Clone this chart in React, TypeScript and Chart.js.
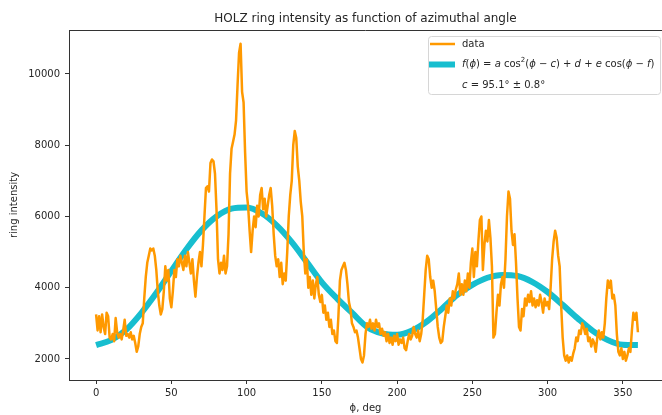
import React, { useEffect, useRef } from "react";
import { Chart, registerables } from "chart.js";

Chart.register(...registerables);

const titleText = "HOLZ ring intensity as function of azimuthal angle";
const xLabel = "ϕ, deg";
const yLabel = "ring intensity";

const xTicks = [0, 50, 100, 150, 200, 250, 300, 350];
const yTicks = [2000, 4000, 6000, 8000, 10000];

// measured intensity, one sample per degree starting at 0°
const phiStartDeg = 0;
const phiStepDeg = 1;
const intensity = [
  3250, 2800, 3200, 2750, 3250, 2900, 2700, 3300, 3200, 2600,
  2550, 2700, 2500, 3150, 2750, 2600, 2700, 2550, 2800, 3100,
  2650, 2700, 2600, 2750, 2550, 2650, 2450, 2200, 2350, 2700,
  2900, 3000, 3700, 4300, 4700, 4900, 5100, 5050, 5100, 4900,
  4500, 3900, 3500, 3250, 3400, 3900, 4600, 4200, 4500, 3700,
  3450, 3900, 4500, 4300, 4800, 4600, 4900, 4700, 4500, 4900,
  4600, 5000, 4700, 4400, 4800, 4200, 3750, 4300, 4700, 5000,
  4600, 5200, 6000, 6800, 6850, 6700, 7500, 7600, 7550, 7200,
  6200, 4800, 4400, 4700, 4500, 4900, 4400, 4600, 5500, 7200,
  7900, 8100, 8300, 8700, 9700, 10600, 10850, 9500, 9200, 7800,
  6700, 6300, 5600, 5000, 5600, 6000, 5700, 6300, 6000, 6600,
  6800, 6200, 6500, 6000, 6300, 6600, 6800, 6300, 5500, 4900,
  4600, 4800, 4300, 4700, 4100, 4400, 4200, 5000, 6000, 6600,
  7000, 8000, 8400, 8200, 7400, 7000, 6400, 6000, 5000, 4400,
  4800, 4000, 4300, 3800, 4200, 3700, 4100, 4300, 3800, 3600,
  3800, 3300, 3500, 3100, 3300, 2900, 3100, 2700, 2800, 2500,
  2450, 3200, 4200, 4500, 4600, 4700, 4500, 4100, 3600, 3400,
  3000, 2900, 2750, 2800, 2600, 2300, 2000, 1900, 2100, 2700,
  3000, 2900, 3100, 2850, 3000, 2800, 3100, 2900, 3000, 2700,
  2850, 2650, 2750, 2500, 2700, 2450, 2600, 2400, 2650, 2500,
  2700, 2400, 2550, 2450, 2600, 2300, 2250, 2500, 2700, 2550,
  2650, 2900, 2700, 2600, 2800, 2500, 2700, 3100, 3800, 4500,
  4900, 4800, 4300, 4000, 4200, 3900, 3400, 2900, 2600, 2450,
  2500, 2900, 3200, 3500, 3300, 3700, 3500, 3900, 3700, 3950,
  4100, 4400, 3800, 4100, 3800, 4200, 3900, 4400, 4000, 4700,
  5100, 4300, 5000, 4600, 5300, 5900, 6000, 4500, 5200, 5600,
  5300, 5900, 5400, 4600, 2600, 2700, 3300, 3800, 3500, 4100,
  4300, 4000, 4800, 6000, 6700, 6500, 5600, 5200, 5500, 4700,
  3700, 2900, 2800, 3400, 3200, 3700, 3500, 3800, 3600, 3900,
  3500, 3700, 3450, 3650, 3500, 3800, 3600, 3300, 3700, 3500,
  3600, 3400, 4000, 4800, 5300, 5600, 5400, 4900, 4600, 3500,
  2600, 2100, 1950, 2100, 1900, 2050, 1950, 2150, 2300, 2600,
  2500, 2800, 2700, 3000, 2900, 2700, 2850, 2500, 2600, 2350,
  2550, 2450, 2200, 2600, 2800, 2550, 2750, 2600, 3000, 3700,
  4200, 4000, 4200, 3700, 3800, 3500, 2700, 2200, 2100, 2300,
  2000, 2200, 1950, 2100, 2300, 2200, 2800, 3300, 3100, 3300,
  2750,
];

// fitted curve every 10°
const fitStepDeg = 10;
const fitValues = [
  2390, 2530, 2820, 3290, 3850, 4470, 5080, 5610, 6000, 6220,
  6250, 6090, 5750, 5280, 4720, 4150, 3700, 3300, 2900, 2720,
  2680, 2800, 3060, 3420, 3800, 4080, 4280, 4360, 4330, 4160,
  3880, 3520, 3140, 2790, 2530, 2400, 2390,
];

const legendData = "data";
const legendFit: [string, string][] = [
  ["f", "i"], ["(", "n"], ["ϕ", "i"], [")", "n"], [" = ", "n"], ["a", "i"],
  [" cos", "n"], ["2", "s"], ["(", "n"], ["ϕ", "i"], [" − ", "n"], ["c", "i"],
  [")", "n"], [" + ", "n"], ["d", "i"], [" + ", "n"], ["e", "i"], [" cos(", "n"],
  ["ϕ", "i"], [" − ", "n"], ["f", "i"], [")", "n"],
];
const legendParam: [string, string][] = [["c", "i"], [" = 95.1° ± 0.8°", "n"]];

const ORANGE = "#ff9900";
const CYAN = "#17becf";
const TEXT = "#262626";
const FONT = "DejaVu Sans";

function drawRich(ctx: CanvasRenderingContext2D, segs: [string, string][], x: number, y: number) {
  let cx = x;
  for (const [t, s] of segs) {
    if (s === "s") {
      ctx.font = `7px "${FONT}"`;
      ctx.fillText(t, cx, y - 4);
    } else {
      ctx.font = `${s === "i" ? "italic " : ""}10px "${FONT}"`;
      ctx.fillText(t, cx, y);
    }
    cx += ctx.measureText(t).width;
  }
}

const framePlugin = {
  id: "frameAndLegend",
  afterDraw(chart: any) {
    const { ctx, chartArea } = chart;
    ctx.save();
    // top spine
    ctx.strokeStyle = "#333";
    ctx.lineWidth = 1;
    ctx.beginPath();
    ctx.moveTo(chartArea.left, chartArea.top + 0.5);
    ctx.lineTo(chartArea.right, chartArea.top + 0.5);
    ctx.stroke();

    // legend
    const x0 = chartArea.left + 359;
    const y0 = chartArea.top + 6;
    const w = 232;
    const h = 58;
    ctx.fillStyle = "rgba(255,255,255,0.85)";
    ctx.strokeStyle = "#d6d6d6";
    ctx.beginPath();
    (ctx as any).roundRect(x0 + 0.5, y0 + 0.5, w, h, 3);
    ctx.fill();
    ctx.stroke();

    ctx.lineCap = "butt";
    ctx.strokeStyle = ORANGE;
    ctx.lineWidth = 2.5;
    ctx.beginPath();
    ctx.moveTo(x0 + 2, y0 + 8);
    ctx.lineTo(x0 + 27, y0 + 8);
    ctx.stroke();

    ctx.strokeStyle = CYAN;
    ctx.lineWidth = 6;
    ctx.beginPath();
    ctx.moveTo(x0 + 1, y0 + 28.5);
    ctx.lineTo(x0 + 27, y0 + 28.5);
    ctx.stroke();

    ctx.fillStyle = TEXT;
    ctx.textBaseline = "middle";
    ctx.textAlign = "left";
    drawRich(ctx, [[legendData, "n"]], x0 + 34, y0 + 8);
    drawRich(ctx, legendFit, x0 + 34, y0 + 28.5);
    drawRich(ctx, legendParam, x0 + 34, y0 + 49);
    ctx.restore();
  },
};

export default function App() {
  const ref = useRef<HTMLCanvasElement | null>(null);
  useEffect(() => {
    document.body.style.margin = "0";
    if (!ref.current) return;
    const dataPts = intensity.map((v, i) => ({ x: phiStartDeg + i * phiStepDeg, y: v }));
    const fitPts = fitValues.map((v, i) => ({ x: i * fitStepDeg, y: v }));
    const chart = new Chart(ref.current, {
      type: "line",
      data: {
        datasets: [
          {
            label: "data",
            data: dataPts,
            borderColor: ORANGE,
            borderWidth: 2.5,
            pointRadius: 0,
            tension: 0,
            borderJoinStyle: "round",
          },
          {
            label: "fit",
            data: fitPts,
            borderColor: CYAN,
            borderWidth: 6,
            pointRadius: 0,
            cubicInterpolationMode: "monotone",
          },
        ],
      },
      options: {
        animation: false,
        responsive: false,
        maintainAspectRatio: false,
        layout: { padding: { left: 0, right: 0, top: 0, bottom: 0 } },
        plugins: {
          legend: { display: false },
          tooltip: { enabled: false },
          title: {
            display: true,
            text: titleText,
            fullSize: false,
            color: TEXT,
            font: { family: FONT, size: 12, weight: "normal" },
            padding: { top: 11.4, bottom: 4.2 },
          },
        },
        scales: {
          x: {
            type: "linear",
            min: -18,
            max: 376,
            afterFit: (s: any) => {
              s.height = 35;
              s.paddingLeft = 0;
              s.paddingRight = 0;
            },
            afterBuildTicks: (s: any) => {
              s.ticks = xTicks.map((v) => ({ value: v }));
            },
            ticks: {
              color: TEXT,
              font: { family: FONT, size: 10 },
              padding: 3,
              maxRotation: 0,
              autoSkip: false,
            },
            grid: { display: true, drawOnChartArea: false, drawTicks: true, tickLength: 4, color: "#333" },
            border: { display: true, color: "#333", width: 1 },
            title: {
              display: true,
              text: xLabel,
              color: TEXT,
              font: { family: FONT, size: 10 },
              padding: { top: 0, bottom: 1 },
            },
          },
          y: {
            type: "linear",
            min: 1410,
            max: 11235,
            afterFit: (s: any) => {
              s.width = 69;
              s.paddingTop = 0;
              s.paddingBottom = 0;
            },
            afterBuildTicks: (s: any) => {
              s.ticks = yTicks.map((v) => ({ value: v }));
            },
            ticks: {
              color: TEXT,
              font: { family: FONT, size: 10 },
              padding: 5,
              autoSkip: false,
              callback: (v: any) => String(v),
            },
            grid: { display: true, drawOnChartArea: false, drawTicks: true, tickLength: 4, color: "#333" },
            border: { display: true, color: "#333", width: 1 },
            title: {
              display: true,
              text: yLabel,
              color: TEXT,
              font: { family: FONT, size: 10 },
              padding: { top: 8, bottom: 0 },
            },
          },
        },
      },
      plugins: [framePlugin],
    });
    return () => chart.destroy();
  }, []);
  return (
    <div style={{ width: 662, height: 415, overflow: "hidden", position: "relative", background: "#fff" }}>
      <canvas ref={ref} width={662} height={415} style={{ display: "block", width: 662, height: 415 }} />
    </div>
  );
}
